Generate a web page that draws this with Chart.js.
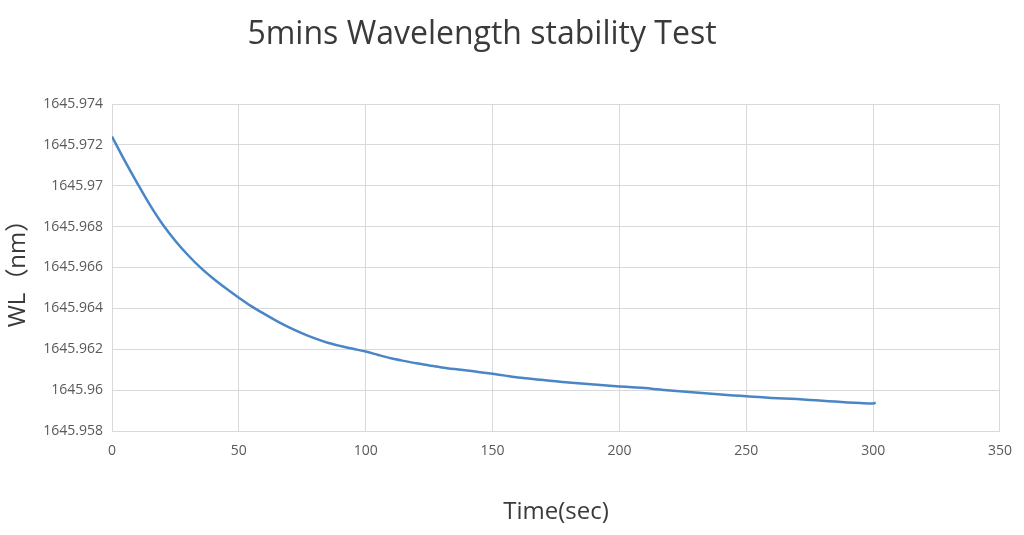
<!DOCTYPE html>
<html>
<head>
<meta charset="utf-8">
<script src="https://cdn.jsdelivr.net/npm/chart.js@4.4.1/dist/chart.umd.min.js"></script>
<style>
    html, body { margin: 0; padding: 0; background: #fff; }
    #wrap { width: 1024px; height: 535px; position: relative; }
</style>
</head>
<body>
<div id="wrap"><canvas id="wlChart"></canvas></div>
<script>
// --------------------------------------------------------------------------
// Data
// --------------------------------------------------------------------------
const timeSec = [
    0, 5, 10, 15, 20, 25, 30, 35, 40, 45, 50, 55, 60, 65, 70, 75, 80, 85, 90, 95,
    100, 105, 110, 115, 120, 125, 130, 135, 140, 145, 150, 155, 160, 165, 170, 175,
    180, 185, 190, 195, 200, 205, 210, 215, 220, 225, 230, 235, 240, 245, 250, 255,
    260, 265, 270, 275, 280, 285, 290, 295, 300, 301
];
const wlNm = [
    1645.97241, 1645.97123, 1645.97012, 1645.96905, 1645.96810, 1645.96730,
    1645.96660, 1645.96598, 1645.96545, 1645.96497, 1645.96452, 1645.96410,
    1645.96373, 1645.96338, 1645.96306, 1645.96278, 1645.96253, 1645.96232,
    1645.96216, 1645.96202, 1645.96189, 1645.96172, 1645.96156, 1645.96143,
    1645.96131, 1645.96121, 1645.96111, 1645.96103, 1645.96096, 1645.96088,
    1645.96080, 1645.96071, 1645.96062, 1645.96056, 1645.96049, 1645.96043,
    1645.96037, 1645.96032, 1645.96027, 1645.96023, 1645.96018, 1645.96014,
    1645.96010, 1645.96004, 1645.95998, 1645.95993, 1645.95988, 1645.95984,
    1645.95979, 1645.95974, 1645.95970, 1645.95966, 1645.95962, 1645.95959,
    1645.95956, 1645.95952, 1645.95948, 1645.95944, 1645.95940, 1645.95937,
    1645.95935, 1645.95938
];
const yTickLabels = [
    '1645.958', '1645.96', '1645.962', '1645.964', '1645.966',
    '1645.968', '1645.97', '1645.972', '1645.974'
];
const xTickLabels = ['0', '50', '100', '150', '200', '250', '300', '350'];
const chartTitle = '5mins Wavelength stability Test';

// --------------------------------------------------------------------------
// Chart
// --------------------------------------------------------------------------
const gridColor = '#d9d9d9';
const tickColor = '#595959';
const textColor = '#3a3a3a';
const points = timeSec.map((t, i) => ({ x: t, y: wlNm[i] }));

// title sits a little left of centre in the original, so draw it by hand
const titlePlugin = {
    id: 'offsetTitle',
    afterDraw(chart) {
        const ctx = chart.ctx;
        ctx.save();
        ctx.font = "32px 'Open Sans', sans-serif";
        ctx.fillStyle = textColor;
        ctx.textAlign = 'center';
        ctx.textBaseline = 'alphabetic';
        ctx.fillText(chartTitle, 482, 44);
        ctx.restore();
    }
};

new Chart(document.getElementById('wlChart').getContext('2d'), {
    type: 'line',
    data: {
        datasets: [{
            label: 'WL',
            data: points,
            borderColor: '#4a86c6',
            borderWidth: 2.5,
            pointRadius: 0,
            tension: 0.3,
            fill: false
        }]
    },
    options: {
        responsive: true,
        maintainAspectRatio: false,
        animation: false,
        layout: {
            padding: { top: 104, right: 22, bottom: 0, left: 0 }
        },
        plugins: {
            legend: { display: false },
            tooltip: { enabled: false },
            title: { display: false }
        },
        scales: {
            x: {
                type: 'linear',
                min: 0,
                max: 350,
                ticks: {
                    stepSize: 50,
                    color: tickColor,
                    padding: 12,
                    font: { family: "'Open Sans', sans-serif", size: 14 },
                    callback: (value, index) => xTickLabels[index]
                },
                grid: { color: gridColor, lineWidth: 1, drawTicks: false },
                border: { color: gridColor },
                title: {
                    display: true,
                    text: 'Time(sec)',
                    color: textColor,
                    font: { family: "'Open Sans', sans-serif", size: 24 },
                    padding: { top: 0, bottom: 8 }
                },
                afterFit: (scale) => { scale.height = 104; }
            },
            y: {
                min: 1645.958,
                max: 1645.974,
                ticks: {
                    stepSize: 0.002,
                    color: tickColor,
                    padding: 9,
                    font: { family: "'Open Sans', sans-serif", size: 14 },
                    callback: (value, index) => yTickLabels[index]
                },
                grid: { color: gridColor, lineWidth: 1, drawTicks: false },
                border: { color: gridColor },
                title: {
                    display: true,
                    text: 'WL（nm）',
                    color: textColor,
                    font: { family: "'Open Sans', 'Noto Sans CJK SC', sans-serif", size: 24 },
                    padding: { top: 4, bottom: 0 }
                },
                afterFit: (scale) => { scale.width = 112; }
            }
        }
    },
    plugins: [titlePlugin]
});
</script>
</body>
</html>
